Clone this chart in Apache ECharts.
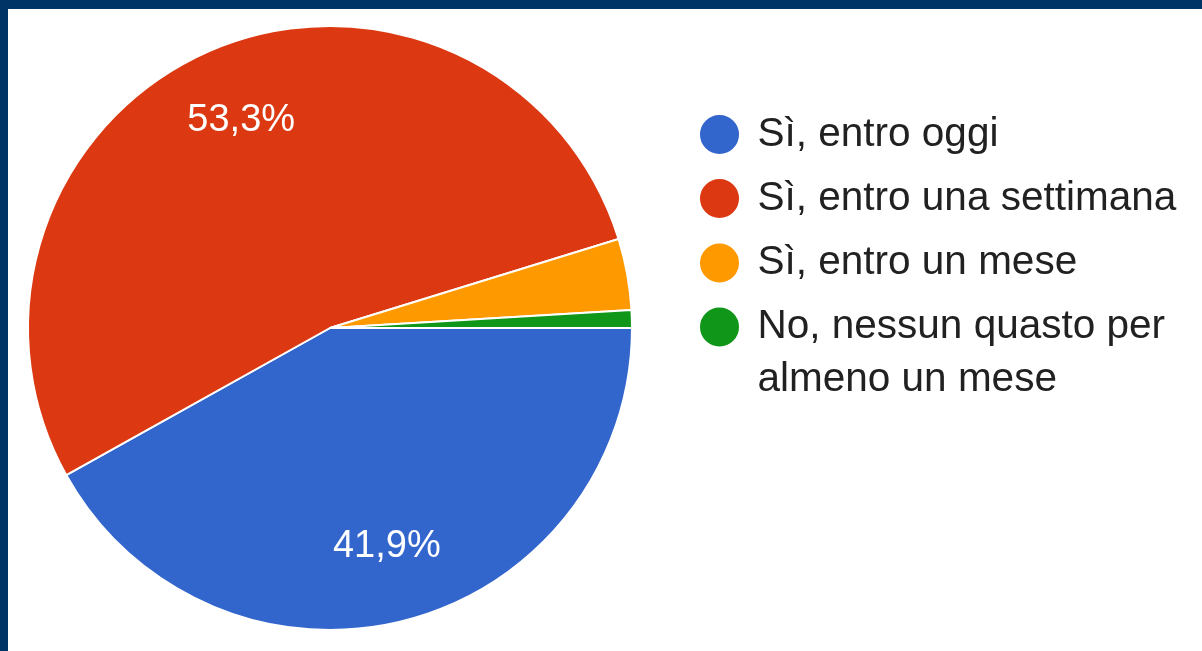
<!DOCTYPE html>
<html>
<head>
<meta charset="utf-8">
<script src="https://cdn.jsdelivr.net/npm/echarts@6/dist/echarts.min.js"></script>
<style>
  html, body { margin: 0; padding: 0; background: #fff; }
  #main { position: absolute; left: 0; top: 0; width: 1202px; height: 651px; }
  .edge { position: absolute; background: #003366; z-index: 5; }
</style>
</head>
<body>
<div id="main"></div>
<div class="edge" style="left:0;top:0;width:1202px;height:9px"></div>
<div class="edge" style="left:0;top:0;width:8px;height:651px"></div>
<script>
// answers and counts (105 responses)
const answers = ['Sì, entro oggi', 'Sì, entro una settimana', 'Sì, entro un mese', 'No, nessun quasto per almeno un mese'];
const counts = [44, 56, 4, 1];
const colors = ['#3366cc', '#dc3912', '#ff9900', '#109618'];

const chart = echarts.init(document.getElementById('main'), null, { renderer: 'canvas' });

const font = '"Liberation Sans", Arial, sans-serif';
const pieData = answers.map((name, i) => ({ name: name, value: counts[i] }));

// one legend per row so the wrapped last entry keeps its first line beside the dot
const rowCenters = [134.5, 198.5, 263, 327];
const lineH = 53;
const legends = answers.map((name, i) => ({
  data: [name],
  orient: 'vertical',
  left: 698,
  top: i === 3 ? rowCenters[i] - lineH * 1.5 : rowCenters[i] - lineH / 2,
  padding: 0,
  icon: 'circle',
  itemWidth: 66,
  itemHeight: 41,
  selectedMode: false,
  formatter: i === 3 ? n => '\n' + n.replace(' almeno', '\nalmeno') : n => n,
  textStyle: { fontFamily: font, fontSize: 40.5, color: '#212121', lineHeight: lineH }
}));

const option = {
  animation: false,
  color: colors,
  legend: legends,
  series: [
    {
      type: 'pie',
      center: [330, 328],
      radius: [0, 302],
      startAngle: 0,
      clockwise: true,
      label: { show: false },
      labelLine: { show: false },
      itemStyle: { borderColor: '#fff', borderWidth: 2 },
      emphasis: { disabled: true },
      data: pieData
    },
    {
      // carries the percentage labels at ~3/4 of the radius
      type: 'pie',
      center: [330, 328],
      radius: [144, 302],
      startAngle: 0,
      clockwise: true,
      silent: true,
      itemStyle: { color: 'transparent' },
      labelLine: { show: false },
      emphasis: { disabled: true },
      label: {
        show: true,
        position: 'inside',
        color: '#fff',
        fontFamily: font,
        fontSize: 38,
        formatter: p => p.percent < 5 ? '' : p.percent.toFixed(1).replace('.', ',') + '%'
      },
      data: pieData
    }
  ]
};

chart.setOption(option);
</script>
</body>
</html>
